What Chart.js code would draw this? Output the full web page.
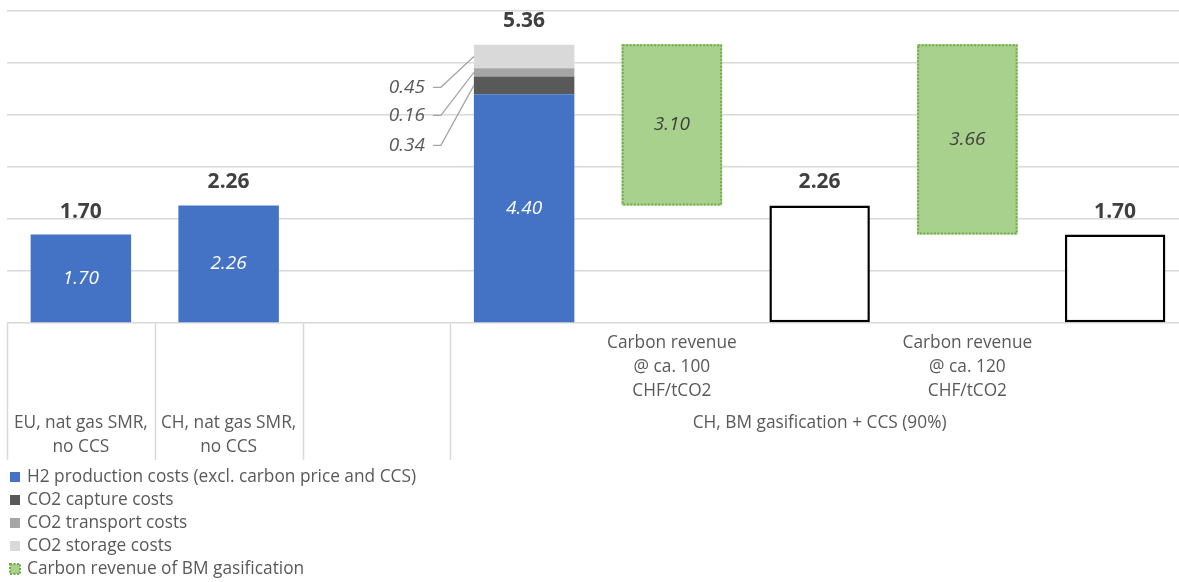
<!DOCTYPE html>
<html>
<head>
<meta charset="utf-8">
<script src="https://cdn.jsdelivr.net/npm/chart.js@4.4.1/dist/chart.umd.min.js"></script>
<style>
  html, body { margin: 0; padding: 0; overflow: hidden; background: #ffffff; }
  #wrap { width: 1190px; height: 582px; position: relative; }
</style>
</head>
<body>
<div id="wrap"><canvas id="c" width="1190" height="582"></canvas></div>
<script>
// ---- data ----
const categoryLabels = [
  ["EU, nat gas SMR,", "no CCS"],
  ["CH, nat gas SMR,", "no CCS"],
  [],
  [],
  ["Carbon revenue", "@ ca. 100", "CHF/tCO2"],
  [],
  ["Carbon revenue", "@ ca. 120", "CHF/tCO2"],
  []
];
const groupLabel = "CH, BM gasification + CCS (90%)";
const groupStart = 3;   // first category of the BM gasification group

const productionCost = [1.70, 2.26, null, 4.40, null, null, null, null];
const captureCost    = [null, null, null, 0.34, null, null, null, null];
const transportCost  = [null, null, null, 0.16, null, null, null, null];
const storageCost    = [null, null, null, 0.45, null, null, null, null];
const carbonRevenue  = [null, null, null, null, 3.10, null, 3.66, null];
const netCost        = [null, null, null, null, null, 2.26, null, 1.70];
const totalCost      = [1.70, 2.26, null, 5.36, null, 2.26, null, 1.70];

const legendNames = [
  "H2 production costs (excl. carbon price and CCS)",
  "CO2 capture costs",
  "CO2 transport costs",
  "CO2 storage costs",
  "Carbon revenue of BM gasification"
];

// ---- styling ----
const FONT = "'Open Sans', 'Noto Sans', sans-serif";
const F_LABEL = `17.3px ${FONT}`;
const F_VALUE = `italic 19px ${FONT}`;
const F_TOTAL = `bold 21px ${FONT}`;
const C_BLUE = '#4472C4', C_CAPTURE = '#595959', C_TRANSPORT = '#A5A5A5', C_STORAGE = '#D9D9D9';
const C_GREEN = '#A9D18E', C_GREEN_EDGE = '#70AD47';
const C_TEXT = '#595959', C_DARK = '#404040', C_GRID = '#D9D9D9';

// stacked cost components become floating segments
const components = [productionCost, captureCost, transportCost, storageCost];
const segments = components.map(() => categoryLabels.map(() => null));
categoryLabels.forEach((_, i) => {
  let acc = 0;
  components.forEach((arr, k) => {
    if (arr[i] != null) { segments[k][i] = [acc, acc + arr[i]]; acc += arr[i]; }
  });
});
// carbon revenue floats from the resulting net cost up to the gross cost
const revenueBars = carbonRevenue.map((v, i) => v == null ? null : [netCost[i + 1], netCost[i + 1] + v]);
const netBars = netCost.map(v => v == null ? null : [0, v]);

const barOpts = { grouped: false, categoryPercentage: 1, barPercentage: 0.68, borderWidth: 0 };
const datasets = [
  { label: legendNames[0], data: segments[0], backgroundColor: C_BLUE, ...barOpts },
  { label: legendNames[1], data: segments[1], backgroundColor: C_CAPTURE, ...barOpts },
  { label: legendNames[2], data: segments[2], backgroundColor: C_TRANSPORT, ...barOpts },
  { label: legendNames[3], data: segments[3], backgroundColor: C_STORAGE, ...barOpts },
  { label: legendNames[4], data: revenueBars, backgroundColor: C_GREEN, ...barOpts },
  { label: 'Net cost', data: netBars, backgroundColor: '#ffffff', ...barOpts,
    borderWidth: 2.5, borderColor: '#000000', borderSkipped: false }
];

function textAt(ctx, str, x, y, font, color, align) {
  ctx.font = font;
  ctx.fillStyle = color;
  ctx.textAlign = align || 'center';
  ctx.textBaseline = 'middle';
  ctx.fillText(str, x, y);
}

const decorations = {
  id: 'decorations',
  afterDatasetsDraw(chart) {
    const { ctx, scales: { x, y } } = chart;
    ctx.save();

    // dotted outline of the carbon revenue bars
    chart.getDatasetMeta(4).data.forEach((el, i) => {
      if (revenueBars[i] == null) return;
      const p = el.getProps(['x', 'y', 'base', 'width'], true);
      const l = p.x - p.width / 2, t = Math.min(p.y, p.base), b = Math.max(p.y, p.base);
      ctx.strokeStyle = C_GREEN_EDGE;
      ctx.lineWidth = 2;
      ctx.setLineDash([2, 1.5]);
      ctx.strokeRect(l + 1, t + 1, p.width - 2, b - t - 2);
      ctx.setLineDash([]);
      textAt(ctx, carbonRevenue[i].toFixed(2), p.x, (t + b) / 2, F_VALUE, C_DARK);
    });

    // value inside the production cost bars
    chart.getDatasetMeta(0).data.forEach((el, i) => {
      if (productionCost[i] == null) return;
      const p = el.getProps(['x', 'y', 'base'], true);
      textAt(ctx, productionCost[i].toFixed(2), p.x, (p.y + p.base) / 2, F_VALUE, '#ffffff');
    });

    // totals above the bars
    totalCost.forEach((v, i) => {
      if (v == null) return;
      textAt(ctx, v.toFixed(2), x.getPixelForValue(i), y.getPixelForValue(v) - 23, F_TOTAL, C_DARK);
    });

    // call-out labels for the CCS cost segments
    const callouts = [[3, storageCost, 43], [2, transportCost, 71], [1, captureCost, 101]];
    callouts.forEach(([ds, arr, dy]) => {
      chart.getDatasetMeta(ds).data.forEach((el, i) => {
        if (arr[i] == null) return;
        const p = el.getProps(['x', 'y', 'base', 'width'], true);
        const left = p.x - p.width / 2;
        const top = y.getPixelForValue(totalCost[i]);
        const ly = top + dy;
        const mid = (p.y + p.base) / 2;
        ctx.strokeStyle = '#A6A6A6';
        ctx.lineWidth = 1.3;
        ctx.beginPath();
        ctx.moveTo(left - 41, ly);
        ctx.lineTo(left - 33, ly);
        ctx.lineTo(left, mid);
        ctx.stroke();
        textAt(ctx, arr[i].toFixed(2), left - 49, ly, F_VALUE, C_TEXT, 'right');
      });
    });

    // category axis: separators and labels
    const base = y.getPixelForValue(0);
    const step = x.getPixelForValue(1) - x.getPixelForValue(0);
    ctx.strokeStyle = C_GRID;
    ctx.lineWidth = 1.5;
    [0, 1, 2, groupStart].forEach(k => {
      const bx = Math.round(x.getPixelForValue(k) - step / 2) + 0.5;
      ctx.beginPath();
      ctx.moveTo(bx, base);
      ctx.lineTo(bx, base + 137);
      ctx.stroke();
    });
    categoryLabels.forEach((lines, i) => {
      if (!lines.length) return;
      const cx = x.getPixelForValue(i);
      const inGroup = i >= groupStart;
      lines.forEach((s, j) => {
        const ly = inGroup ? base + 20 + j * 24 : base + 100 + j * 24;
        textAt(ctx, s, cx, ly, F_LABEL, C_TEXT);
      });
    });
    const gx = (x.getPixelForValue(groupStart) + x.getPixelForValue(categoryLabels.length - 1)) / 2;
    textAt(ctx, groupLabel, gx, base + 100, F_LABEL, C_TEXT);

    // legend, one entry per line
    const swatches = [C_BLUE, C_CAPTURE, C_TRANSPORT, C_STORAGE, C_GREEN];
    legendNames.forEach((name, k) => {
      const ly = 477 + k * 23;
      if (k === 4) {
        ctx.fillStyle = C_GREEN;
        ctx.fillRect(10, ly - 5, 10, 10);
        ctx.strokeStyle = C_GREEN_EDGE;
        ctx.lineWidth = 2;
        ctx.setLineDash([2, 1.5]);
        ctx.strokeRect(10, ly - 5, 10, 10);
        ctx.setLineDash([]);
      } else {
        ctx.fillStyle = swatches[k];
        ctx.fillRect(10, ly - 5, 10, 10);
      }
      textAt(ctx, name, 27, ly, F_LABEL, C_TEXT, 'left');
    });

    ctx.restore();
  }
};

new Chart(document.getElementById('c'), {
  type: 'bar',
  data: { labels: categoryLabels.map(l => l.join(' ')), datasets },
  options: {
    responsive: false,
    animation: false,
    devicePixelRatio: 1,
    layout: { padding: { left: 7, right: 1, top: 11, bottom: 259 } },
    plugins: { legend: { display: false }, tooltip: { enabled: false } },
    scales: {
      x: { display: false, offset: true },
      y: {
        min: 0, max: 6,
        ticks: { display: false, stepSize: 1 },
        grid: { color: C_GRID, lineWidth: 1.5, drawTicks: false },
        border: { display: false },
        afterFit(s) { s.width = 0; }
      }
    }
  },
  plugins: [decorations]
});
</script>
</body>
</html>
